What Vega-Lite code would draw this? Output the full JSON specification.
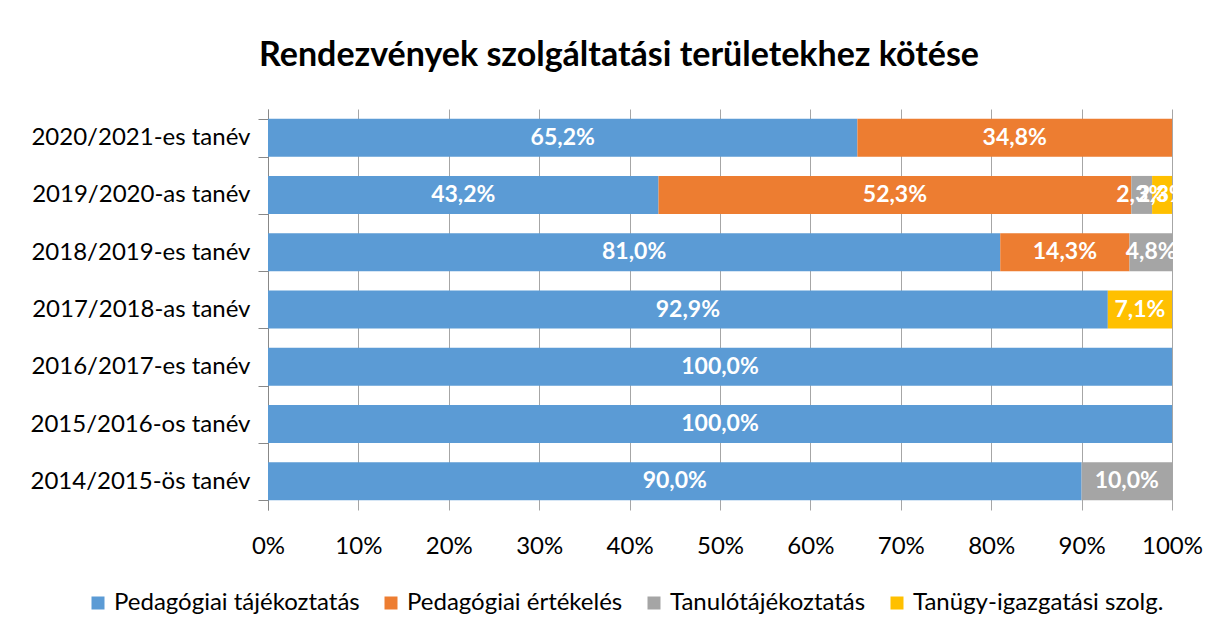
{
  "$schema": "https://vega.github.io/schema/vega-lite/v6.json",
  "autosize": "none",
  "width": 904,
  "height": 401,
  "padding": {"left": 268, "top": 109, "right": 47, "bottom": 127},
  "background": "white",
  "config": {
    "locale": {"number": {"decimal": ",", "thousands": " ", "grouping": [3], "currency": ["", " Ft"]}},
    "font": "Lato",
    "view": {"stroke": null}
  },
  "title": {
    "text": "Rendezvények szolgáltatási területekhez kötése",
    "fontSize": 34,
    "fontWeight": "bold",
    "font": "Lato",
    "color": "#000000",
    "anchor": "middle",
    "dx": -101,
    "offset": 24
  },
  "data": {
    "values": [
      {"year": "2020/2021-es tanév", "series": "Pedagógiai tájékoztatás", "value": 0.652},
      {"year": "2020/2021-es tanév", "series": "Pedagógiai értékelés", "value": 0.348},
      {"year": "2019/2020-as tanév", "series": "Pedagógiai tájékoztatás", "value": 0.432},
      {"year": "2019/2020-as tanév", "series": "Pedagógiai értékelés", "value": 0.523},
      {"year": "2019/2020-as tanév", "series": "Tanulótájékoztatás", "value": 0.023},
      {"year": "2019/2020-as tanév", "series": "Tanügy-igazgatási szolg.", "value": 0.023},
      {"year": "2018/2019-es tanév", "series": "Pedagógiai tájékoztatás", "value": 0.81},
      {"year": "2018/2019-es tanév", "series": "Pedagógiai értékelés", "value": 0.143},
      {"year": "2018/2019-es tanév", "series": "Tanulótájékoztatás", "value": 0.048},
      {"year": "2017/2018-as tanév", "series": "Pedagógiai tájékoztatás", "value": 0.929},
      {"year": "2017/2018-as tanév", "series": "Tanügy-igazgatási szolg.", "value": 0.071},
      {"year": "2016/2017-es tanév", "series": "Pedagógiai tájékoztatás", "value": 1.0},
      {"year": "2015/2016-os tanév", "series": "Pedagógiai tájékoztatás", "value": 1.0},
      {"year": "2014/2015-ös tanév", "series": "Pedagógiai tájékoztatás", "value": 0.9},
      {"year": "2014/2015-ös tanév", "series": "Tanulótájékoztatás", "value": 0.1}
    ]
  },
  "transform": [
    {"stack": "value", "groupby": ["year"], "sort": [{"field": "series", "order": "ascending"}], "as": ["v0", "v1"]},
    {"calculate": "(datum.v0 + datum.v1) / 2", "as": "mid"}
  ],
  "encoding": {
    "y": {
      "field": "year",
      "type": "nominal",
      "sort": null,
      "scale": {"paddingInner": 0.337, "paddingOuter": 0.1685},
      "axis": {
        "title": null,
        "labelFont": "Lato",
        "labelFontSize": 24,
        "labelColor": "#000000",
        "labelPadding": 8,
        "domainColor": "#888888",
        "tickColor": "#888888",
        "tickSize": 10,
        "tickBand": "extent",
        "labelLimit": 400
      }
    }
  },
  "layer": [
    {
      "mark": {"type": "bar", "clip": true},
      "encoding": {
        "x": {
          "field": "v0",
          "type": "quantitative",
          "scale": {"domain": [0, 1], "nice": false},
          "axis": {
            "title": null,
            "format": ".0%",
            "values": [0, 0.1, 0.2, 0.3, 0.4, 0.5, 0.6, 0.7, 0.8, 0.9, 1.0],
            "labelOverlap": false,
            "labelFlush": false,
            "labelBound": false,
            "domain": false,
            "ticks": false,
            "grid": true,
            "gridColor": "#A6A6A6",
            "gridWidth": 1,
            "labelFont": "Lato",
            "labelFontSize": 24,
            "labelColor": "#000000",
            "labelPadding": 24
          }
        },
        "x2": {"field": "v1"},
        "color": {
          "field": "series",
          "type": "nominal",
          "scale": {
            "domain": ["Pedagógiai tájékoztatás", "Pedagógiai értékelés", "Tanulótájékoztatás", "Tanügy-igazgatási szolg."],
            "range": ["#5B9BD5", "#ED7D31", "#A5A5A5", "#FFC000"]
          },
          "legend": {
            "title": null,
            "orient": "none",
            "direction": "horizontal",
            "legendX": -182,
            "legendY": 482,
            "symbolType": "square",
            "symbolSize": 169,
            "symbolStrokeWidth": 0,
            "labelFont": "Lato",
            "labelFontSize": 24,
            "labelColor": "#000000",
            "labelOffset": 4,
            "columnPadding": 19,
            "labelLimit": 400
          }
        }
      }
    },
    {
      "mark": {"type": "text", "color": "white", "fontWeight": "bold", "fontSize": 23, "font": "Lato", "align": "center", "baseline": "middle"},
      "encoding": {
        "x": {"field": "mid", "type": "quantitative"},
        "text": {"field": "value", "type": "quantitative", "format": ".1%"}
      }
    }
  ]
}
